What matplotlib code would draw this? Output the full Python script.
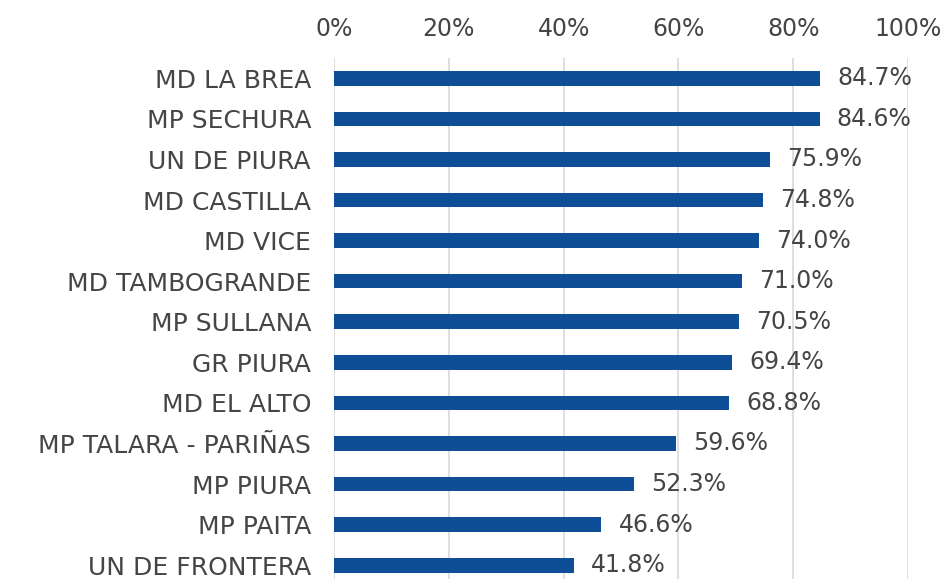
import matplotlib
matplotlib.use('Agg')
import matplotlib.pyplot as plt
from matplotlib.ticker import PercentFormatter

# Datos
entidades = ['MD LA BREA', 'MP SECHURA', 'UN DE PIURA', 'MD CASTILLA', 'MD VICE',
             'MD TAMBOGRANDE', 'MP SULLANA', 'GR PIURA', 'MD EL ALTO',
             'MP TALARA - PARIÑAS', 'MP PIURA', 'MP PAITA', 'UN DE FRONTERA']
porcentajes = [84.7, 84.6, 75.9, 74.8, 74.0, 71.0, 70.5, 69.4, 68.8, 59.6, 52.3, 46.6, 41.8]
ticks_x = [0, 20, 40, 60, 80, 100]

azul = '#0E4E96'
gris_texto = '#454545'

plt.rcParams['font.family'] = ['DejaVu Sans']

fig = plt.figure(figsize=(9.42, 5.79), dpi=100)
ax = fig.add_axes([334 / 942, 0.0, (908 - 334) / 942, (579 - 58) / 579])

pos = list(range(len(entidades)))
ax.barh(pos, porcentajes, height=0.36, color=azul, zorder=3)

for y, v in zip(pos, porcentajes):
    ax.text(v + 3.0, y, f'{v:.1f}%', va='center', ha='left',
            fontsize=17, color=gris_texto)

ax.set_xlim(0, 100)
ax.set_ylim(12.34, -0.5)
ax.set_yticks(pos)
ax.set_yticklabels(entidades, fontsize=18, color=gris_texto)
ax.set_xticks(ticks_x)
ax.xaxis.set_major_formatter(PercentFormatter(decimals=0))
ax.xaxis.tick_top()
ax.tick_params(axis='x', length=0, pad=12, labelsize=17, labelcolor=gris_texto)
ax.tick_params(axis='y', length=0, pad=16.5)
ax.grid(axis='x', color='#D9D9D9', linewidth=1.2, zorder=0)
for s in ax.spines.values():
    s.set_visible(False)

plt.savefig('out.png', dpi=100)
